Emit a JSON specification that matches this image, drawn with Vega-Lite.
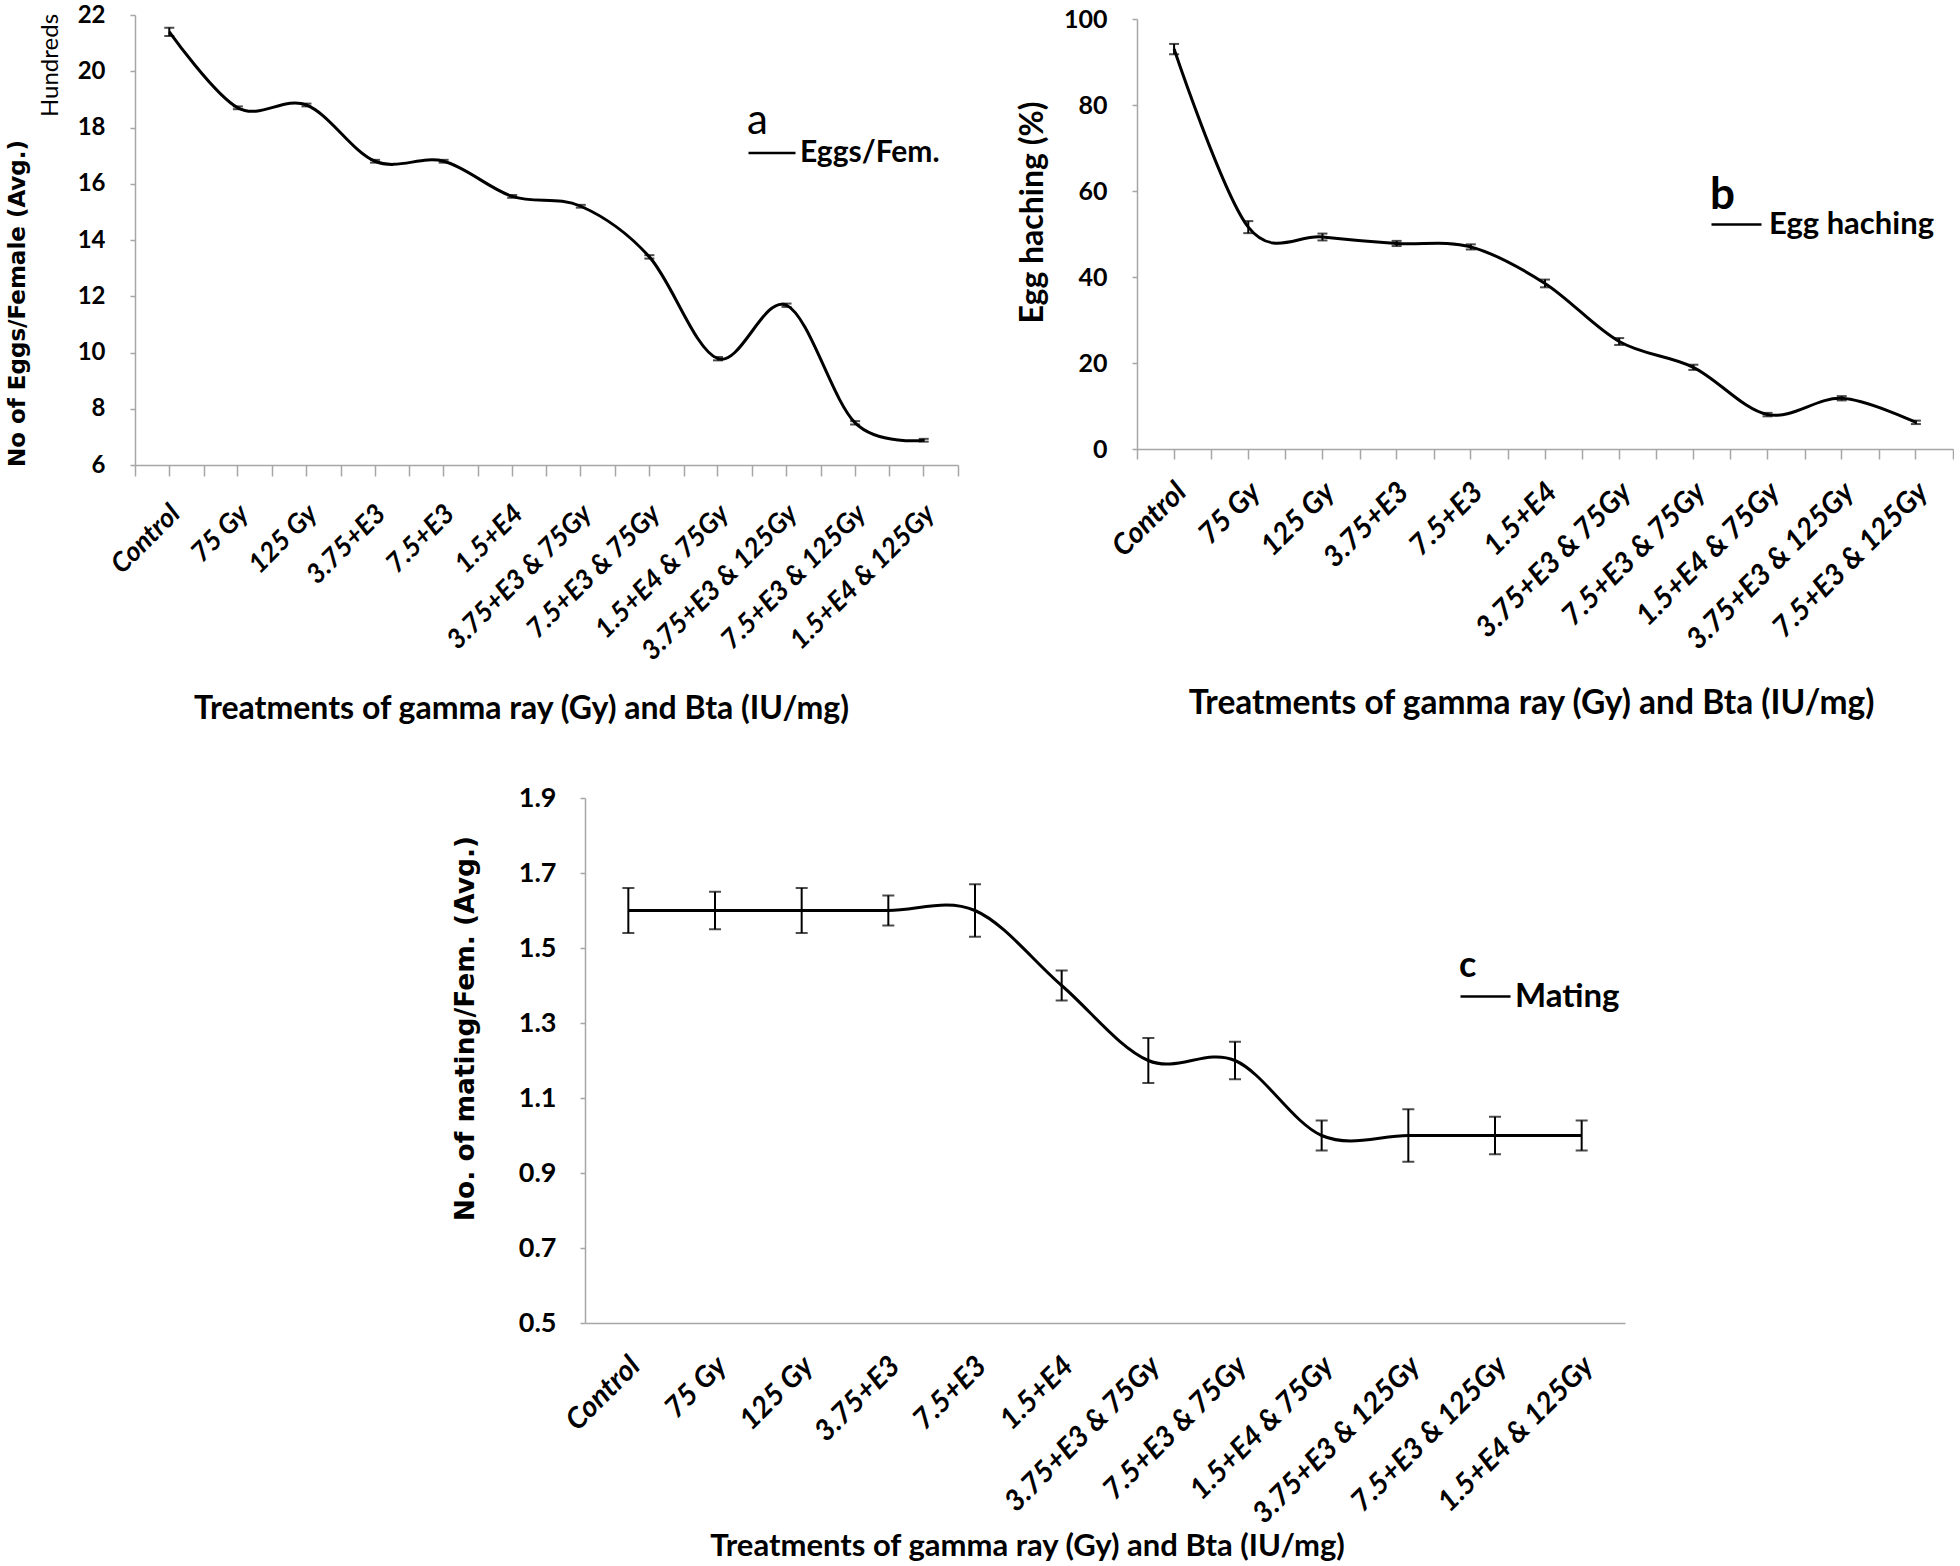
{
  "$schema": "https://vega.github.io/schema/vega-lite/v6.json",
  "padding": {"left": 6, "top": 3, "right": 0, "bottom": 0},
  "background": "white",
  "width": 1818,
  "height": 1308,
  "config": {
    "font": "Lato",
    "view": {"stroke": null},
    "axis": {"domainColor": "#a6a6a6", "tickColor": "#a6a6a6", "grid": false, "labelColor": "#000000", "titleColor": "#000000", "domainWidth": 1.5, "tickWidth": 1.5, "labelOverlap": false, "labelLimit": 400},
    "legend": {"padding": 0, "labelLimit": 400}
  },
  "datasets": {
    "eggs": [
      {"treatment": "Control", "series": "Eggs/Fem.", "mean": 21.4, "err": 0.15},
      {"treatment": "75 Gy", "series": "Eggs/Fem.", "mean": 18.7, "err": 0.05},
      {"treatment": "125 Gy", "series": "Eggs/Fem.", "mean": 18.8, "err": 0.05},
      {"treatment": "3.75+E3", "series": "Eggs/Fem.", "mean": 16.8, "err": 0.05},
      {"treatment": "7.5+E3", "series": "Eggs/Fem.", "mean": 16.8, "err": 0.05},
      {"treatment": "1.5+E4", "series": "Eggs/Fem.", "mean": 15.55, "err": 0.05},
      {"treatment": "3.75+E3 & 75Gy", "series": "Eggs/Fem.", "mean": 15.2, "err": 0.05},
      {"treatment": "7.5+E3  & 75Gy", "series": "Eggs/Fem.", "mean": 13.4, "err": 0.06},
      {"treatment": "1.5+E4 & 75Gy", "series": "Eggs/Fem.", "mean": 9.78, "err": 0.06},
      {"treatment": "3.75+E3 & 125Gy", "series": "Eggs/Fem.", "mean": 11.68, "err": 0.06},
      {"treatment": "7.5+E3 & 125Gy", "series": "Eggs/Fem.", "mean": 7.5, "err": 0.06},
      {"treatment": "1.5+E4 & 125Gy", "series": "Eggs/Fem.", "mean": 6.88, "err": 0.05}
    ],
    "hatch": [
      {"treatment": "Control", "series": "Egg haching", "mean": 93.0, "err": 1.2},
      {"treatment": "75 Gy", "series": "Egg haching", "mean": 51.6, "err": 1.4},
      {"treatment": "125 Gy", "series": "Egg haching", "mean": 49.3, "err": 0.8},
      {"treatment": "3.75+E3", "series": "Egg haching", "mean": 47.8, "err": 0.6},
      {"treatment": "7.5+E3", "series": "Egg haching", "mean": 47.0, "err": 0.6},
      {"treatment": "1.5+E4", "series": "Egg haching", "mean": 38.5, "err": 0.9},
      {"treatment": "3.75+E3 & 75Gy", "series": "Egg haching", "mean": 25.0, "err": 0.8},
      {"treatment": "7.5+E3  & 75Gy", "series": "Egg haching", "mean": 19.0, "err": 0.6},
      {"treatment": "1.5+E4 & 75Gy", "series": "Egg haching", "mean": 8.0, "err": 0.4},
      {"treatment": "3.75+E3 & 125Gy", "series": "Egg haching", "mean": 11.8, "err": 0.5},
      {"treatment": "7.5+E3 & 125Gy", "series": "Egg haching", "mean": 6.2, "err": 0.4}
    ],
    "mating": [
      {"treatment": "Control", "series": "Mating", "mean": 1.6, "err": 0.06},
      {"treatment": "75 Gy", "series": "Mating", "mean": 1.6, "err": 0.05},
      {"treatment": "125 Gy", "series": "Mating", "mean": 1.6, "err": 0.06},
      {"treatment": "3.75+E3", "series": "Mating", "mean": 1.6, "err": 0.04},
      {"treatment": "7.5+E3", "series": "Mating", "mean": 1.6, "err": 0.07},
      {"treatment": "1.5+E4", "series": "Mating", "mean": 1.4, "err": 0.04},
      {"treatment": "3.75+E3 & 75Gy", "series": "Mating", "mean": 1.2, "err": 0.06},
      {"treatment": "7.5+E3  & 75Gy", "series": "Mating", "mean": 1.2, "err": 0.05},
      {"treatment": "1.5+E4 & 75Gy", "series": "Mating", "mean": 1.0, "err": 0.04},
      {"treatment": "3.75+E3 & 125Gy", "series": "Mating", "mean": 1.0, "err": 0.07},
      {"treatment": "7.5+E3 & 125Gy", "series": "Mating", "mean": 1.0, "err": 0.05},
      {"treatment": "1.5+E4 & 125Gy", "series": "Mating", "mean": 1.0, "err": 0.04}
    ]
  },
  "layer": [
    {
      "data": {"name": "eggs"},
      "mark": {"type": "line", "interpolate": "cardinal", "strokeWidth": 3},
      "encoding": {
        "x": {"field": "treatment", "type": "nominal", "sort": null,
          "scale": {"type": "band", "paddingInner": 0, "paddingOuter": 0, "range": [0, 823]},
          "axis": {"orient": "bottom", "offset": -858, "title": "Treatments of gamma ray (Gy) and Bta (IU/mg)", "titleFontSize": 32, "titleFontWeight": "bold", "titleX": 386, "titleY": 228, "titleBaseline": "top", "titleAlign": "center",
            "labelAngle": -45, "labelAlign": "right", "labelBaseline": "top", "labelFontSize": 27, "labelFontWeight": "bold", "labelFontStyle": "italic", "labelPadding": 24, "labelOffset": -3, "tickBand": "extent", "tickSize": 11}},
        "y": {"field": "mean", "type": "quantitative",
          "scale": {"domain": [6, 22], "zero": false, "nice": false, "range": [450, 0]},
          "axis": {"orient": "left", "values": [6, 8, 10, 12, 14, 16, 18, 20, 22], "title": "No of Eggs/Female (Avg.)", "titleFont": "DejaVu Sans", "titleFontWeight": "bold", "titleFontSize": 23, "titleAngle": -90, "titleX": -118, "titleY": 288, "titleAlign": "center", "titleBaseline": "middle",
            "labelFontSize": 24, "labelFontWeight": "bold", "labelPadding": 25, "tickSize": 5}},
        "color": {"field": "series", "type": "nominal", "scale": {"range": ["#000000"]},
          "legend": {"orient": "none", "legendX": 612, "legendY": 86, "title": "a", "titleFontSize": 42, "titleFontWeight": "normal", "titlePadding": -15, "titleColor": "#000000",
            "labelFontSize": 30, "labelFontWeight": "bold", "labelColor": "#000000", "labelOffset": 3, "symbolType": "stroke", "symbolSize": 2209, "symbolStrokeWidth": 2.5}}
      }
    },
    {
      "data": {"name": "eggs"},
      "mark": {"type": "errorbar", "ticks": true, "size": 10, "thickness": 2, "color": "#000000"},
      "encoding": {
        "x": {"field": "treatment", "type": "nominal", "sort": null,
          "scale": {"type": "band", "paddingInner": 0, "paddingOuter": 0, "range": [0, 823]},
          "axis": {"orient": "bottom", "offset": -858, "title": null, "labels": false, "domain": false, "tickSize": 11}},
        "y": {"field": "mean", "type": "quantitative",
          "scale": {"domain": [6, 22], "zero": false, "nice": false, "range": [450, 0]},
          "axis": {"orient": "left", "title": "Hundreds", "labels": false, "ticks": false, "domain": false, "titleFontSize": 24, "titleFontWeight": "normal", "titleAngle": -90, "titleX": -85, "titleY": 50, "titleAlign": "center", "titleBaseline": "middle"}},
        "yError": {"field": "err"}
      }
    },
    {
      "data": {"name": "hatch"},
      "mark": {"type": "line", "interpolate": "cardinal", "strokeWidth": 3},
      "encoding": {
        "x": {"field": "treatment", "type": "nominal", "sort": null,
          "scale": {"type": "band", "paddingInner": 0, "paddingOuter": 0, "range": [1002, 1818]},
          "axis": {"orient": "bottom", "offset": -874, "title": "Treatments of gamma ray (Gy) and Bta (IU/mg)", "titleFontSize": 33.5, "titleFontWeight": "bold", "titleX": 1396, "titleY": 238, "titleBaseline": "top", "titleAlign": "center",
            "labelAngle": -45, "labelAlign": "right", "labelBaseline": "top", "labelFontSize": 29, "labelFontWeight": "bold", "labelFontStyle": "italic", "labelPadding": 18, "labelOffset": -3, "tickBand": "extent", "tickSize": 10}},
        "y": {"field": "mean", "type": "quantitative",
          "scale": {"domain": [0, 100], "nice": false, "range": [434, 4]},
          "axis": {"orient": "left", "offset": -1002, "values": [0, 20, 40, 60, 80, 100], "title": "Egg haching (%)", "titleFontWeight": "bold", "titleFontSize": 32, "titleAngle": -90, "titleX": -105, "titleY": 197, "titleAlign": "center", "titleBaseline": "middle",
            "labelFontSize": 25, "labelFontWeight": "bold", "labelPadding": 25, "tickSize": 5}},
        "color": {"field": "series", "type": "nominal", "scale": {"range": ["#000000"]},
          "legend": {"orient": "none", "legendX": 1575, "legendY": 159, "title": "b", "titleFontSize": 44, "titleFontWeight": "bold", "titlePadding": -20, "titleColor": "#000000",
            "labelFontSize": 31, "labelFontWeight": "bold", "labelColor": "#000000", "labelOffset": 6, "symbolType": "stroke", "symbolSize": 2500, "symbolStrokeWidth": 2.5}}
      }
    },
    {
      "data": {"name": "hatch"},
      "mark": {"type": "errorbar", "ticks": true, "size": 10, "thickness": 2, "color": "#000000"},
      "encoding": {
        "x": {"field": "treatment", "type": "nominal", "sort": null,
          "scale": {"type": "band", "paddingInner": 0, "paddingOuter": 0, "range": [1002, 1818]},
          "axis": {"orient": "bottom", "offset": -874, "title": null, "labels": false, "domain": false, "tickSize": 10}},
        "y": {"field": "mean", "type": "quantitative",
          "scale": {"domain": [0, 100], "nice": false, "range": [434, 4]}, "axis": null},
        "yError": {"field": "err"}
      }
    },
    {
      "data": {"name": "mating"},
      "mark": {"type": "line", "interpolate": "cardinal", "strokeWidth": 3},
      "encoding": {
        "x": {"field": "treatment", "type": "nominal", "sort": null,
          "scale": {"type": "band", "paddingInner": 0, "paddingOuter": 0, "range": [450, 1490]},
          "axis": {"orient": "bottom", "offset": 0, "title": "Treatments of gamma ray (Gy) and Bta (IU/mg)", "titleFontSize": 31, "titleFontWeight": "bold", "titleX": 892, "titleY": 208, "titleBaseline": "top", "titleAlign": "center",
            "labelAngle": -45, "labelAlign": "right", "labelBaseline": "top", "labelFontSize": 29, "labelFontWeight": "bold", "labelFontStyle": "italic", "labelPadding": 28, "labelOffset": -3, "ticks": false, "tickSize": 0}},
        "y": {"field": "mean", "type": "quantitative",
          "scale": {"domain": [0.5, 1.9], "zero": false, "nice": false, "range": [1308, 783]},
          "axis": {"orient": "left", "offset": -450, "values": [0.5, 0.7, 0.9, 1.1, 1.3, 1.5, 1.7, 1.9], "format": ".1f", "title": "No. of mating/Fem. (Avg.)", "titleFont": "DejaVu Sans", "titleFontWeight": "bold", "titleFontSize": 26.5, "titleAngle": -90, "titleX": -120, "titleY": 1013, "titleAlign": "center", "titleBaseline": "middle",
            "labelFontSize": 27, "labelFontWeight": "bold", "labelPadding": 24, "tickSize": 5}},
        "color": {"field": "series", "type": "nominal", "scale": {"range": ["#000000"]},
          "legend": {"orient": "none", "legendX": 1324, "legendY": 934, "title": "c", "titleFontSize": 36, "titleFontWeight": "bold", "titlePadding": -15, "titleColor": "#000000",
            "labelFontSize": 33, "labelFontWeight": "bold", "labelColor": "#000000", "labelOffset": 3, "symbolType": "stroke", "symbolSize": 2500, "symbolStrokeWidth": 2.5}}
      }
    },
    {
      "data": {"name": "mating"},
      "mark": {"type": "errorbar", "ticks": true, "size": 12, "thickness": 2, "color": "#000000"},
      "encoding": {
        "x": {"field": "treatment", "type": "nominal", "sort": null,
          "scale": {"type": "band", "paddingInner": 0, "paddingOuter": 0, "range": [450, 1490]}, "axis": null},
        "y": {"field": "mean", "type": "quantitative",
          "scale": {"domain": [0.5, 1.9], "zero": false, "nice": false, "range": [1308, 783]}, "axis": null},
        "yError": {"field": "err"}
      }
    }
  ],
  "resolve": {
    "scale": {"x": "independent", "y": "independent", "color": "independent"},
    "axis": {"x": "independent", "y": "independent"},
    "legend": {"color": "independent"}
  }
}
